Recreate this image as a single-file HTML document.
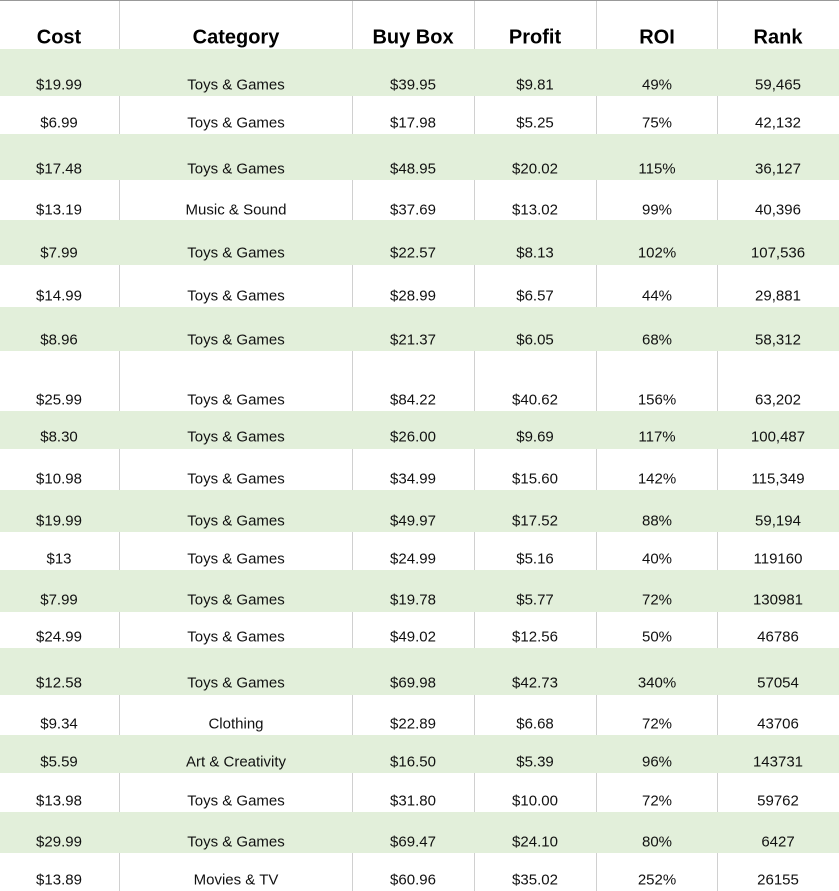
<!DOCTYPE html>
<html><head><style>
body{margin:0;width:839px;height:891px;background:#fff;position:relative;overflow:hidden;font-family:"Liberation Sans",sans-serif}
.r{position:absolute;left:0;width:839px}
.g{background:#e2efda}
.v{position:absolute;width:1px;background:#d0d0d0}
.t{position:absolute;transform:translate(-50%,-50%);white-space:nowrap;font-size:15px;color:#111}
.h{font-weight:bold;font-size:20px;color:#000}
</style></head><body>
<div style="position:absolute;left:0;top:0;width:839px;height:1px;background:#999"></div>
<div id="c"></div>
<script>
const rows=[[49,96,84,"$19.99","Toys & Games","$39.95","$9.81","49%","59,465"],
[96,134,122,"$6.99","Toys & Games","$17.98","$5.25","75%","42,132"],
[134,180,168,"$17.48","Toys & Games","$48.95","$20.02","115%","36,127"],
[180,220,209,"$13.19","Music & Sound","$37.69","$13.02","99%","40,396"],
[220,265,252,"$7.99","Toys & Games","$22.57","$8.13","102%","107,536"],
[265,307,295,"$14.99","Toys & Games","$28.99","$6.57","44%","29,881"],
[307,351,339,"$8.96","Toys & Games","$21.37","$6.05","68%","58,312"],
[351,411,399,"$25.99","Toys & Games","$84.22","$40.62","156%","63,202"],
[411,449,436,"$8.30","Toys & Games","$26.00","$9.69","117%","100,487"],
[449,490,478,"$10.98","Toys & Games","$34.99","$15.60","142%","115,349"],
[490,532,520,"$19.99","Toys & Games","$49.97","$17.52","88%","59,194"],
[532,570,558,"$13","Toys & Games","$24.99","$5.16","40%","119160"],
[570,612,599,"$7.99","Toys & Games","$19.78","$5.77","72%","130981"],
[612,648,636,"$24.99","Toys & Games","$49.02","$12.56","50%","46786"],
[648,695,682,"$12.58","Toys & Games","$69.98","$42.73","340%","57054"],
[695,735,723,"$9.34","Clothing","$22.89","$6.68","72%","43706"],
[735,773,761,"$5.59","Art & Creativity","$16.50","$5.39","96%","143731"],
[773,812,800,"$13.98","Toys & Games","$31.80","$10.00","72%","59762"],
[812,853,841,"$29.99","Toys & Games","$69.47","$24.10","80%","6427"],
[853,891,879,"$13.89","Movies & TV","$60.96","$35.02","252%","26155"]];
const cx=[59,236,413,535,657,778],vx=[119,352,474,596,717];
let h='';
const hd=["Cost","Category","Buy Box","Profit","ROI","Rank"];
vx.forEach(x=>h+=`<div class="v" style="left:${x}px;top:1px;height:48px"></div>`);
hd.forEach((s,i)=>h+=`<div class="t h" style="left:${cx[i]}px;top:38px">${s}</div>`);
rows.forEach((r,k)=>{
 const g=k%2==0;
 if(g)h+=`<div class="r g" style="top:${r[0]}px;height:${r[1]-r[0]}px"></div>`;
 else vx.forEach(x=>h+=`<div class="v" style="left:${x}px;top:${r[0]}px;height:${r[1]-r[0]}px"></div>`);
 for(let i=0;i<6;i++)h+=`<div class="t" style="left:${cx[i]}px;top:${r[2]+1}px">${r[i+3].replace('&','&amp;')}</div>`;
});
document.getElementById('c').innerHTML=h;
</script>
</body></html>
